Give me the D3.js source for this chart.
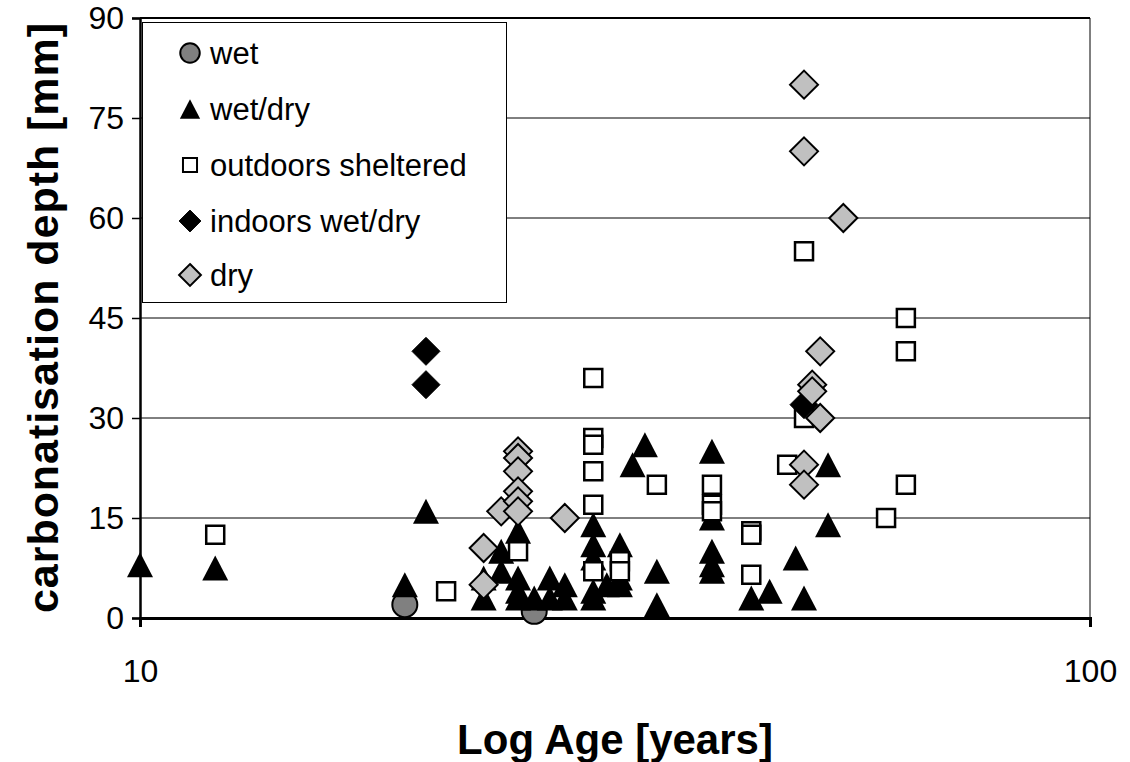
<!DOCTYPE html>
<html><head><meta charset="utf-8">
<script src="https://cdn.jsdelivr.net/npm/d3@7"></script>
<style>body{margin:0;background:#fff}svg{display:block;font-family:"Liberation Sans",Arial,sans-serif}</style>
</head><body><svg id="c" width="1130" height="762"></svg>
<script>
const wetAge = [19, 26];
const wetDepth = [2, 1];
const wetDryAge = [10,12,19,20,23,23,24,24,25,25,25,25,26,27,27,28,28,30,30,30,30,30,31,32,32,32,33,34,35,35,40,40,40,40,40,44,46,49,50,53,53];
const wetDryDepth = [8,7.5,5,16,6,3,10,7,13,6,4,3,3,6,3,5,3,14,11,9,4,3,5,11,6,5,23,26,7,2,25,15,10,8,7,3,4,9,3,23,14];
const outAge = [12,21,25,30,30,30,30,30,30,32,32,35,40,40,40,44,44,44,48,50,50,61,64,64,64];
const outDepth = [12.5,4,10,36,27,26,22,17,7,8.5,7,20,20,17,16,13,12.5,6.5,23,30,55,15,45,40,20];
const indoorAge = [20,20,50];
const indoorDepth = [40,35,32];
const dryAge = [23,23,24,25,25,25,25,25,25,28,50,50,50,50,51,51,52,52,55];
const dryDepth = [10.5,5,16,25,24,22,19,17.5,16,15,80,70,23,20,35,34,40,30,60];
const seriesNames = ["wet","wet/dry","outdoors sheltered","indoors wet/dry","dry"];
const yTicks = [0,15,30,45,60,75,90];
const xTicks = [10,100];

const svg = d3.select("#c");
const L=140,R=1090,T=18,B=618;
const x = d3.scaleLog().domain([10,100]).range([L,R]);
const y = d3.scaleLinear().domain([0,90]).range([B,T]);

// gridlines
svg.append("g").selectAll("line").data(yTicks.filter(d=>d>0&&d<90)).join("line")
  .attr("x1",L).attr("x2",R).attr("y1",d=>y(d)).attr("y2",d=>y(d))
  .attr("stroke","#000").attr("stroke-width",1);
// frame
svg.append("line").attr("x1",L).attr("x2",R).attr("y1",T).attr("y2",T).attr("stroke","#000").attr("stroke-width",2);
svg.append("line").attr("x1",R).attr("x2",R).attr("y1",T).attr("y2",B).attr("stroke","#000").attr("stroke-width",1);

// axes
const yAx = svg.append("g").attr("transform",`translate(${L},0)`)
  .call(d3.axisLeft(y).tickValues(yTicks).tickSize(8).tickPadding(8));
yAx.select(".domain").attr("stroke-width",2.5);
yAx.selectAll(".tick line").attr("stroke-width",1.5);
yAx.selectAll("text").attr("font-size",32).attr("font-family","Liberation Sans, Arial").attr("fill","#000");
const xAx = svg.append("g").attr("transform",`translate(0,${B})`)
  .call(d3.axisBottom(x).tickValues(xTicks).tickFormat(d3.format("d")).tickSize(9).tickPadding(32));
xAx.select(".domain").attr("stroke-width",3);
xAx.selectAll(".tick line").attr("stroke-width",1.5);
xAx.selectAll("text").attr("font-size",32).attr("font-family","Liberation Sans, Arial").attr("fill","#000");

// titles
svg.append("text").attr("x",615).attr("y",754).attr("text-anchor","middle")
  .attr("font-size",42).attr("font-weight","bold").text("Log Age [years]");
svg.append("text").attr("transform","translate(58,318) rotate(-90)").attr("text-anchor","middle")
  .attr("font-size",43).attr("font-weight","bold")
  .attr("textLength",590).attr("lengthAdjust","spacing").text("carbonatisation depth [mm]");

// marker shapes
function shape(kind, s){
  if(kind==="tri"){const w=13*s,h=12.5*s;return `M0,${-h}L${w},${h}L${-w},${h}Z`;}
  if(kind==="sq"){const a=9*s;return `M${-a},${-a}H${a}V${a}H${-a}Z`;}
  if(kind==="dia"){const a=14*s;return `M0,${-a}L${a},0L0,${a}L${-a},0Z`;}
  const r=12.5*s;return `M${-r},0A${r},${r} 0 1,0 ${r},0A${r},${r} 0 1,0 ${-r},0Z`;
}
const styles = [
  {kind:"circ",fill:"#808080",stroke:"#000",sw:2},
  {kind:"tri",fill:"#000",stroke:"none",sw:0},
  {kind:"sq",fill:"#fff",stroke:"#000",sw:2.5},
  {kind:"dia",fill:"#000",stroke:"#000",sw:1},
  {kind:"dia",fill:"#c0c0c0",stroke:"#000",sw:2}
];
const allAges=[wetAge,wetDryAge,outAge,indoorAge,dryAge];
const allDepths=[wetDepth,wetDryDepth,outDepth,indoorDepth,dryDepth];
allAges.forEach((ages,i)=>{
  const st=styles[i];
  const pts=ages.map((a,j)=>({a,d:allDepths[i][j]}));
  svg.append("g").selectAll("path").data(pts).join("path")
    .attr("d",shape(st.kind,1))
    .attr("transform",p=>`translate(${x(p.a)},${y(p.d)})`)
    .attr("fill",st.fill).attr("stroke",st.stroke).attr("stroke-width",st.sw);
});

// legend
const lg = svg.append("g");
lg.append("rect").attr("x",142.5).attr("y",22.5).attr("width",364).attr("height",280)
  .attr("fill","#fff").attr("stroke","#000").attr("stroke-width",1);
const rowY=[53,109,165,221,275];
seriesNames.forEach((n,i)=>{
  const st=styles[i];
  lg.append("path").attr("d",shape(st.kind,0.78)).attr("transform",`translate(190,${rowY[i]})`)
    .attr("fill",st.fill).attr("stroke",st.stroke).attr("stroke-width",Math.min(st.sw,2));
  lg.append("text").attr("x",210).attr("y",rowY[i]+11).attr("font-size",31).text(n);
});
</script></body></html>
